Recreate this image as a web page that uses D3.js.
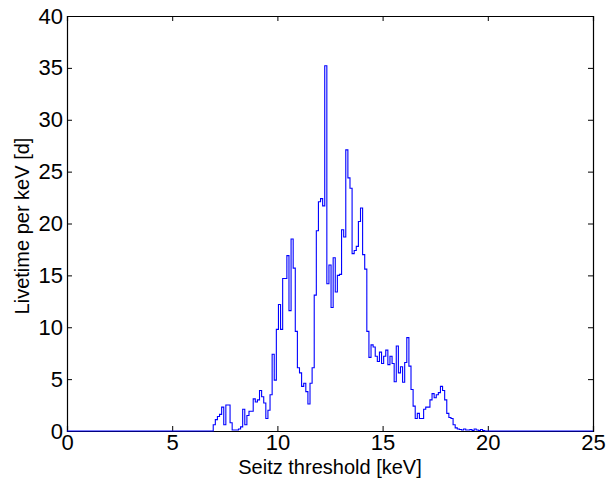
<!DOCTYPE html>
<html>
<head>
<meta charset="utf-8">
<script src="https://cdn.jsdelivr.net/npm/d3@7"></script>
<style>
  body { margin: 0; background: #fff; }
  text { font-family: "Liberation Sans", Arial, sans-serif; }
</style>
</head>
<body>
<svg id="chart" width="607" height="481"></svg>
<script>
// histogram bins, 0.1 keV wide, first bin starts at binStart
var binStart = 6.95;
var binWidth = 0.1;
var livetime = [0.6, 1.1, 1.4, 1.6, 2.3, 0.6, 2.5, 2.5, 0.8, 0.1,
  0.1, 0.1, 0.2, 0.4, 2.1, 0.6, 1.5, 1.9, 1.9, 3.1,
  2.8, 3.0, 3.9, 3.3, 2.7, 1.2, 2.0, 3.5, 7.4, 4.9,
  9.8, 12.2, 9.8, 14.7, 14.7, 16.9, 11.6, 18.5, 15.7, 9.6,
  6.1, 5.6, 4.3, 4.6, 3.8, 2.6, 4.6, 6.1, 13.1, 19.3,
  22.1, 22.4, 21.7, 35.2, 14.2, 16.0, 11.9, 16.7, 13.4, 15.0,
  15.1, 19.4, 18.7, 27.1, 24.4, 23.4, 17.1, 17.4, 17.8, 20.2,
  21.5, 17.0, 15.6, 9.6, 7.1, 8.3, 8.1, 7.2, 6.7, 7.6,
  6.5, 7.2, 7.8, 6.4, 7.2, 6.5, 4.75, 8.2, 5.6, 6.2,
  4.7, 6.6, 9.0, 6.25, 4.0, 2.4, 1.2, 1.7, 1.2, 1.2,
  2.1, 2.3, 2.3, 3.0, 3.6, 3.2, 3.5, 3.7, 4.3, 3.9,
  3.0, 1.7, 1.3, 1.2, 0.6, 0.3, 0.2, 0.15, 0.1, 0.2,
  0.1, 0.1, 0.15, 0.05, 0.2, 0.1, 0.05, 0.15, 0.05, 0.0];
var xTicks = [0, 5, 10, 15, 20, 25];
var yTicks = [0, 5, 10, 15, 20, 25, 30, 35, 40];

var svg = d3.select('#chart');
var m = { left: 67, right: 593, top: 16, bottom: 431 };

var x = d3.scaleLinear().domain([0, 25]).range([m.left, m.right]);
var y = d3.scaleLinear().domain([0, 40]).range([m.bottom, m.top]);

// build stair points: flat zero before and after the histogram
var pts = [[0, 0], [binStart, 0]];
livetime.forEach(function(v, i) {
  var a = binStart + i * binWidth;
  pts.push([a, v]);
  pts.push([a + binWidth, v]);
});
pts.push([binStart + livetime.length * binWidth, 0]);
pts.push([25, 0]);

var line = d3.line().x(function(d) { return x(d[0]); }).y(function(d) { return y(d[1]); });

// axes with inward ticks, mirrored on top/right like matlab box
svg.append('g').attr('transform', 'translate(0,' + m.bottom + ')')
  .call(d3.axisBottom(x).tickValues(xTicks).tickSize(-5).tickPadding(3).tickFormat(d3.format('d')));
svg.append('g').attr('transform', 'translate(0,' + m.top + ')')
  .call(d3.axisTop(x).tickValues(xTicks).tickSize(-5).tickFormat(''));
svg.append('g').attr('transform', 'translate(' + m.left + ',0)')
  .call(d3.axisLeft(y).tickValues(yTicks).tickSize(-5).tickPadding(4).tickFormat(d3.format('d')));
svg.append('g').attr('transform', 'translate(' + m.right + ',0)')
  .call(d3.axisRight(y).tickValues(yTicks).tickSize(-5).tickFormat(''));

svg.selectAll('.domain').attr('stroke', '#000').attr('stroke-width', 1.2);
svg.selectAll('.tick line').attr('stroke', '#000');
svg.selectAll('.tick text').style('font-size', '22px').attr('fill', '#000')
  .style('font-family', '"Liberation Sans", Arial, sans-serif');

svg.append('path').datum(pts).attr('d', line)
  .attr('fill', 'none').attr('stroke', '#0000ff').attr('stroke-width', 1.1);

svg.append('text').attr('x', (m.left + m.right) / 2).attr('y', 474)
  .attr('text-anchor', 'middle').style('font-size', '20px').text('Seitz threshold [keV]');
svg.append('text').attr('transform', 'translate(29,226) rotate(-90)')
  .attr('text-anchor', 'middle').style('font-size', '20px').text('Livetime per keV [d]');
</script>
</body>
</html>
